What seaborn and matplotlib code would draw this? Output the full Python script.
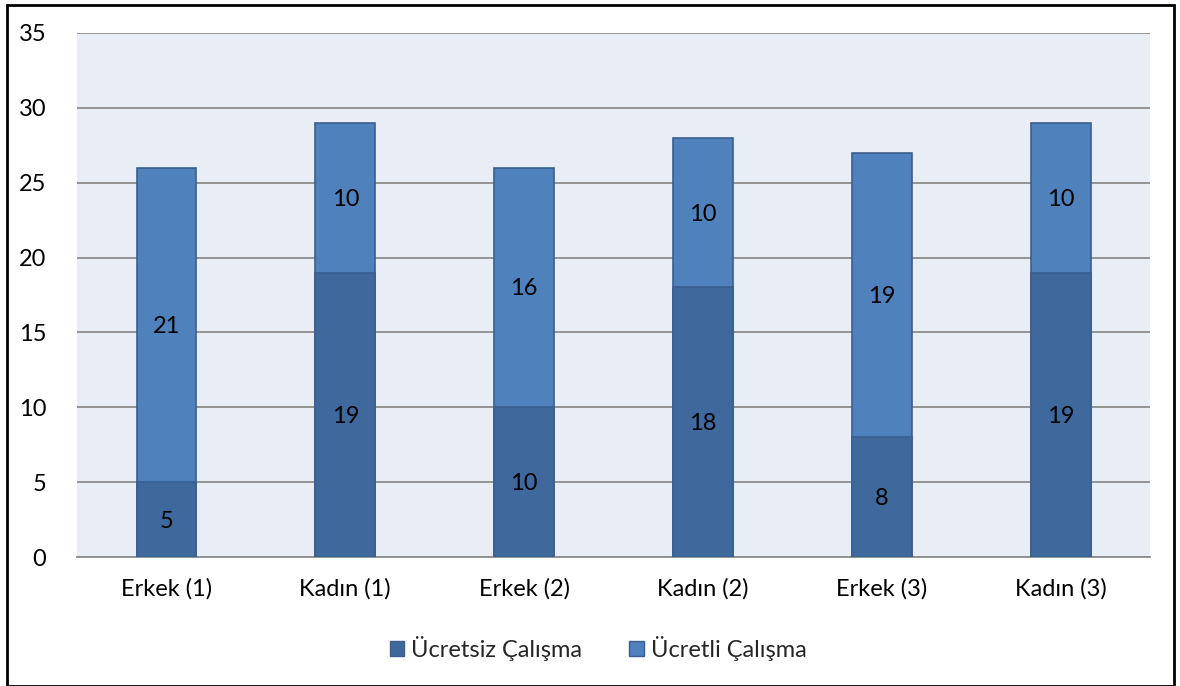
import matplotlib
matplotlib.use("Agg")
import matplotlib.pyplot as plt
from matplotlib.patches import Patch, Rectangle
import seaborn as sns
import pandas as pd

categories = ["Erkek (1)", "Kadın (1)", "Erkek (2)", "Kadın (2)", "Erkek (3)", "Kadın (3)"]
unpaid = [5, 19, 10, 18, 8, 19]
paid = [21, 10, 16, 10, 19, 10]
series_names = ["Ücretsiz Çalışma", "Ücretli Çalışma"]

dark = "#3F689C"
light = "#4F81BD"
edge = "#3A5F8F"

df = pd.DataFrame({"cat": categories, "unpaid": unpaid, "paid": paid})
df["total"] = df["unpaid"] + df["paid"]

sns.set_style("white")
plt.rcParams["font.family"] = ["Lato", "DejaVu Sans"]

fig = plt.figure(figsize=(11.8, 6.86), dpi=100)
ax = fig.add_axes([0.0653, 0.188, 0.9093, 0.764])
ax.set_facecolor("#E9EDF5")

# light bar = total, dark bar drawn over it = unpaid part
sns.barplot(data=df, x="cat", y="total", color=light, width=0.335,
            edgecolor=edge, linewidth=1.2, saturation=1, ax=ax, zorder=3)
sns.barplot(data=df, x="cat", y="unpaid", color=dark, width=0.335,
            edgecolor=edge, linewidth=1.2, saturation=1, ax=ax, zorder=4)

for i, (u, p) in enumerate(zip(unpaid, paid)):
    ax.text(i, u / 2 - 0.1, str(u), ha="center", va="center", fontsize=17, color="black", zorder=5)
    ax.text(i, u + p / 2 - 0.1, str(p), ha="center", va="center", fontsize=17, color="black", zorder=5)

ax.set_ylim(0, 35)
ax.set_yticks(range(0, 36, 5))
ax.set_xlim(-0.5, len(categories) - 0.5)
ax.yaxis.grid(True, color="#8C8C8C", linewidth=1.3, zorder=0)
ax.set_axisbelow(True)
for s in ["top", "right", "left"]:
    ax.spines[s].set_visible(False)
ax.spines["bottom"].set_color("#8C8C8C")
ax.spines["bottom"].set_linewidth(1.3)
ax.tick_params(axis="both", length=0, labelsize=17, colors="black")
ax.tick_params(axis="y", pad=22)
ax.tick_params(axis="x", pad=15)
ax.set_xlabel("")
ax.set_ylabel("")

handles = [Patch(facecolor=dark, edgecolor=edge), Patch(facecolor=light, edgecolor=edge)]
fig.legend(handles, series_names, loc="center", bbox_to_anchor=(0.507, 0.055), ncol=2,
           frameon=False, fontsize=17, handlelength=0.6, handleheight=0.6,
           handletextpad=0.3, columnspacing=2.0)

fig.patches.append(Rectangle((0.006, 0.0), 0.989, 0.993, transform=fig.transFigure,
                             fill=False, edgecolor="black", linewidth=2))

fig.savefig("out.png", dpi=100)
